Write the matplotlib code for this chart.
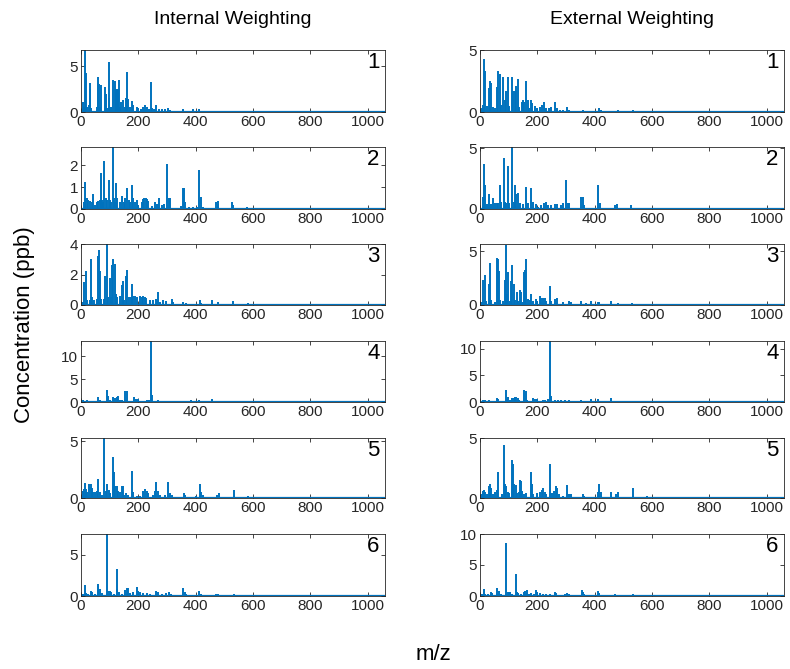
import matplotlib
matplotlib.use('Agg')
import matplotlib.pyplot as plt

# peak lists (m/z, concentration in ppb) for the six factors
# internal weighting
int1_mz = [8, 12, 15, 18, 22, 29, 31, 33, 36, 55, 59, 61, 63, 66, 70, 83, 87, 90, 96, 99, 105, 113,
           117, 122, 126, 130, 131, 135, 141, 147, 152, 157, 161, 165, 171, 177, 182, 194, 200, 210, 217,
           223, 229, 237, 245, 248, 256, 263, 271, 283, 293, 304, 309, 354, 389, 412, 480]
int1_conc = [1.1, 0.6, 6.8, 4.3, 0.5, 0.8, 3.2, 2.5, 0.4, 0.5, 3.2, 3.8, 3.1, 0.6, 3.0, 2.7, 2.0, 0.4, 5.5, 1.5, 0.6, 3.5,
             3.4, 2.5, 2.4, 2.5, 3.5, 0.6, 1.1, 1.3, 0.5, 1.5, 4.4, 1.4, 0.6, 1.2, 0.8, 0.5, 0.4, 0.3, 0.6,
             0.8, 0.5, 0.3, 3.3, 0.4, 0.3, 0.8, 0.3, 0.3, 0.3, 0.4, 0.2, 0.3, 0.3, 0.3, 0.1]

int2_mz = [10, 13, 15, 20, 26, 31, 37, 43, 48, 55, 60, 65, 68, 72, 76, 81, 86, 91, 96, 100, 106, 111, 114, 118,
           122, 127, 135, 144, 150, 155, 161, 166, 172, 177, 182, 188, 194, 200, 211, 217, 221, 225, 229, 235,
           248, 257, 265, 271, 281, 288, 300, 306, 312, 350, 354, 358, 363, 376, 390, 404, 412, 419, 426,
           472, 476, 479, 528, 531, 579, 640, 700, 760]
int2_conc = [0.3, 0.5, 1.25, 0.5, 0.4, 0.35, 0.3, 0.7, 0.2, 0.3, 0.35, 0.4, 1.65, 0.4, 0.3, 2.2, 0.5, 0.4, 1.35, 0.4, 0.3,
             2.85, 0.5, 0.3, 1.2, 0.5, 0.3, 0.6, 0.3, 0.5, 0.95, 0.4, 0.3, 1.1, 0.5, 0.3, 0.4, 0.2, 0.3, 0.45, 0.5,
             0.5, 0.45, 0.35, 0.15, 0.3, 0.25, 0.5, 0.2, 0.25, 2.05, 0.5, 0.5, 0.15, 0.95, 0.95, 0.3, 0.1, 0.1, 0.1,
             1.8, 0.55, 0.1, 0.3, 0.35, 0.25, 0.3, 0.2, 0.1, 0.05, 0.05, 0.05]

int3_mz = [6, 12, 17, 22, 31, 34, 38, 47, 55, 59, 63, 67, 71, 81, 85, 89, 95, 100, 105, 109, 113, 117, 122, 127,
           135, 142, 146, 151, 157, 161, 166, 173, 177, 182, 188, 194, 205, 211, 217, 223, 228, 240, 251, 263,
           269, 275, 286, 298, 316, 321, 356, 367, 414, 420, 457, 478, 530, 582, 670, 760]
int3_conc = [0.2, 1.5, 2.2, 0.3, 0.3, 3.0, 0.5, 0.3, 0.4, 3.2, 3.6, 2.2, 0.4, 0.4, 1.9, 4.0, 0.5, 1.8, 0.5, 2.6,
             3.0, 2.7, 0.7, 0.5, 0.6, 1.3, 1.6, 0.3, 1.9, 2.3, 0.5, 0.5, 1.4, 0.6, 0.6, 0.5, 0.6, 0.55, 0.6, 0.5,
             0.45, 0.35, 0.3, 0.4, 0.85, 0.2, 0.3, 0.25, 0.4, 0.2, 0.2, 0.15, 0.3, 0.15, 0.35, 0.2, 0.25, 0.1,
             0.05, 0.05]

int4_mz = [8, 20, 37, 58, 66, 78, 89, 95, 101, 110, 118, 124, 130, 137, 143, 154, 159, 164, 173, 184, 191, 199,
           217, 229, 236, 245, 249, 257, 269, 281, 310, 356, 385, 412, 458, 478, 530]
int4_conc = [0.5, 0.4, 0.3, 1.0, 0.4, 0.3, 2.7, 1.2, 0.5, 1.0, 0.9, 1.1, 1.2, 0.5, 0.4, 2.5, 2.3, 0.3, 0.3, 1.0,
             0.6, 0.7, 0.3, 0.5, 0.5, 13.3, 1.6, 0.3, 0.5, 0.2, 0.3, 0.3, 0.5, 0.5, 0.6, 0.2, 0.1]

int5_mz = [6, 10, 14, 17, 22, 29, 34, 37, 43, 48, 55, 61, 66, 73, 81, 86, 92, 96, 101, 111, 115, 119, 124, 130,
           136, 142, 145, 150, 157, 165, 177, 182, 194, 205, 217, 223, 229, 235, 251, 257, 263, 269, 275, 294,
           303, 310, 318, 345, 359, 364, 402, 414, 420, 426, 474, 481, 532, 584, 646, 715]
int5_conc = [0.6, 0.8, 1.3, 0.8, 0.5, 1.2, 1.2, 0.9, 0.5, 0.5, 0.6, 1.7, 0.5, 0.3, 5.3, 0.6, 1.2, 0.7, 0.4, 3.6,
             2.3, 1.1, 1.1, 0.6, 0.5, 1.1, 1.1, 0.3, 0.4, 0.3, 2.4, 0.5, 0.2, 0.2, 0.6, 0.8, 0.6, 0.4, 0.3, 0.6,
             1.4, 0.6, 0.3, 0.3, 1.4, 0.4, 0.3, 0.1, 0.4, 0.3, 0.2, 1.2, 0.5, 0.3, 0.3, 0.4, 0.7, 0.2, 0.1, 0.05]

int6_mz = [6, 13, 17, 26, 34, 38, 49, 58, 61, 67, 72, 89, 95, 101, 106, 115, 124, 127, 132, 142, 153, 159, 165,
           170, 182, 194, 199, 205, 217, 229, 240, 263, 269, 281, 298, 308, 313, 356, 362, 367, 412, 418, 472,
           479, 532, 582, 611, 670]
int6_conc = [0.3, 1.3, 0.4, 0.2, 0.6, 0.5, 0.2, 1.5, 1.2, 0.9, 0.4, 7.5, 0.6, 0.6, 0.5, 0.3, 3.3, 0.8, 0.5, 0.3,
             0.7, 1.0, 1.0, 0.4, 0.5, 1.1, 0.6, 0.5, 0.4, 0.35, 0.3, 0.6, 0.5, 0.2, 0.4, 0.5, 0.3, 1.0, 0.5, 0.2,
             0.6, 0.3, 0.3, 0.2, 0.2, 0.15, 0.1, 0.05]

# external weighting
ext1_mz = [6, 9, 15, 18, 23, 32, 35, 39, 44, 52, 60, 64, 68, 73, 81, 86, 91, 96, 101, 110, 114, 123, 127, 132,
           137, 145, 149, 155, 162, 167, 171, 178, 183, 191, 199, 208, 217, 223, 229, 239, 247, 262, 268, 280,
           289, 303, 310, 358, 387, 416, 422, 480, 534, 590]
ext1_conc = [0.3, 0.6, 4.3, 3.3, 0.5, 1.9, 2.5, 2.3, 0.4, 0.3, 2.0, 3.3, 3.1, 0.6, 2.8, 1.0, 1.7, 2.8, 0.5, 2.8,
             1.7, 1.7, 2.1, 2.7, 0.4, 0.8, 1.0, 0.8, 2.5, 1.0, 0.3, 1.0, 0.7, 0.5, 0.3, 0.4, 0.6, 0.8, 0.3, 0.3,
             0.4, 0.8, 0.3, 0.2, 0.2, 0.4, 0.2, 0.2, 0.1, 0.3, 0.15, 0.2, 0.2, 0.05]

ext2_mz = [9, 15, 18, 23, 32, 37, 46, 51, 58, 64, 69, 74, 83, 87, 92, 98, 102, 113, 117, 123, 126, 132, 139,
           150, 162, 168, 179, 185, 194, 202, 214, 222, 229, 237, 249, 260, 268, 283, 291, 301, 306, 312, 347,
           353, 358, 364, 399, 413, 419, 426, 472, 476, 526, 578, 636]
ext2_conc = [1.0, 3.7, 2.0, 0.4, 1.2, 0.4, 0.9, 0.5, 0.5, 0.5, 2.0, 0.6, 4.2, 0.6, 0.5, 3.5, 0.5, 5.1, 0.6, 2.0,
             1.2, 1.3, 0.5, 0.4, 1.8, 0.5, 1.7, 0.6, 0.4, 0.2, 0.3, 0.5, 0.6, 0.3, 0.3, 0.4, 0.45, 0.3, 0.5, 2.4,
             0.5, 0.5, 0.1, 1.0, 1.0, 0.3, 0.1, 2.0, 0.5, 0.1, 0.3, 0.4, 0.3, 0.1, 0.05]

ext3_mz = [6, 12, 16, 21, 30, 35, 39, 52, 58, 62, 67, 71, 81, 86, 90, 94, 98, 103, 109, 113, 118, 122, 129, 134,
           139, 144, 149, 155, 158, 162, 167, 173, 179, 185, 194, 200, 208, 214, 220, 226, 231, 244, 248, 263,
           269, 289, 310, 318, 353, 370, 387, 410, 416, 457, 480, 529]
ext3_conc = [0.3, 2.3, 2.8, 0.4, 2.0, 3.9, 0.5, 0.3, 4.4, 4.3, 3.2, 0.5, 0.4, 2.3, 5.6, 1.0, 3.1, 0.4, 2.2, 3.7,
             2.0, 0.5, 1.2, 0.4, 1.4, 1.2, 0.3, 3.1, 3.3, 4.3, 0.6, 0.5, 1.0, 0.4, 0.6, 0.4, 0.8, 0.7, 0.7, 0.7,
             0.4, 1.8, 0.4, 0.6, 0.7, 0.3, 0.4, 0.3, 0.4, 0.2, 0.35, 0.3, 0.3, 0.35, 0.15, 0.2]

ext4_mz = [9, 17, 32, 40, 58, 64, 90, 95, 98, 104, 111, 118, 123, 127, 131, 137, 155, 160, 165, 185, 191, 199,
           208, 220, 226, 237, 245, 249, 260, 272, 283, 295, 310, 353, 387, 410, 457, 474, 532]
ext4_conc = [0.3, 0.3, 0.4, 0.2, 0.8, 0.5, 2.3, 0.6, 1.0, 0.3, 0.7, 0.7, 0.9, 0.9, 0.8, 0.3, 2.2, 2.0, 0.4, 0.8,
             0.6, 0.6, 0.2, 0.3, 0.4, 0.5, 11.5, 1.2, 0.3, 0.4, 0.4, 0.3, 0.3, 0.3, 0.5, 0.5, 0.7, 0.2, 0.1]

ext5_mz = [6, 9, 14, 18, 25, 32, 36, 39, 46, 54, 60, 64, 75, 82, 87, 92, 97, 102, 111, 114, 119, 124, 128, 136,
           140, 143, 148, 154, 162, 178, 182, 186, 199, 208, 215, 220, 226, 231, 245, 250, 257, 264, 268, 275,
           289, 304, 310, 318, 358, 364, 410, 416, 422, 457, 474, 481, 534, 584, 636, 670]
ext5_conc = [0.3, 0.6, 0.7, 0.5, 0.3, 1.0, 1.2, 0.8, 0.3, 0.5, 0.7, 2.2, 0.3, 4.4, 1.2, 1.0, 0.5, 0.4, 3.2, 2.8,
             1.2, 1.1, 0.4, 0.5, 1.5, 1.4, 0.6, 0.3, 0.4, 2.2, 1.2, 0.3, 0.4, 0.5, 0.7, 0.8, 0.5, 0.3, 2.8, 0.4,
             0.6, 1.0, 0.8, 0.3, 0.2, 1.1, 0.3, 0.3, 0.3, 0.2, 0.5, 1.2, 0.5, 0.5, 0.3, 0.5, 0.8, 0.2, 0.05, 0.05]

ext6_mz = [6, 13, 18, 29, 37, 42, 52, 61, 67, 72, 91, 96, 101, 105, 113, 125, 128, 133, 144, 153, 158, 164, 171,
           179, 188, 194, 199, 208, 220, 231, 245, 261, 266, 277, 295, 303, 310, 354, 358, 364, 410, 416, 472,
           480, 532, 580, 612, 660]
ext6_conc = [0.3, 1.2, 0.3, 0.3, 0.7, 0.5, 0.2, 1.3, 0.8, 0.4, 8.6, 0.7, 0.6, 0.6, 0.3, 3.6, 0.7, 0.5, 0.4, 0.6,
             0.8, 0.9, 0.4, 0.5, 0.4, 1.0, 0.6, 0.5, 0.3, 0.3, 0.3, 0.6, 0.5, 0.2, 0.4, 0.5, 0.3, 0.9, 0.7, 0.3,
             0.8, 0.5, 0.3, 0.2, 0.3, 0.2, 0.1, 0.05]

internal = [(int1_mz, int1_conc), (int2_mz, int2_conc), (int3_mz, int3_conc),
            (int4_mz, int4_conc), (int5_mz, int5_conc), (int6_mz, int6_conc)]
external = [(ext1_mz, ext1_conc), (ext2_mz, ext2_conc), (ext3_mz, ext3_conc),
            (ext4_mz, ext4_conc), (ext5_mz, ext5_conc), (ext6_mz, ext6_conc)]

int_yticks = [[0, 5], [0, 1, 2], [0, 2, 4], [0, 5, 10], [0, 5], [0, 5]]
ext_yticks = [[0, 5], [0, 5], [0, 5], [0, 5, 10], [0, 5], [0, 5, 10]]
ext_ytop = [5.0, 5.1, 5.7, 11.5, 5.0, 10.0]
xticks = [0, 200, 400, 600, 800, 1000]

blue = '#0072BD'
plt.rcParams['font.family'] = ['Liberation Sans', 'DejaVu Sans']

W, H = 790, 669
fig = plt.figure(figsize=(W / 100, H / 100), dpi=100)

row_top = [50, 147, 244, 341, 438, 534]
row_bot = [112, 209, 305, 402, 498, 596]
col_left = [81, 480]
col_w = 304


def draw_panel(ax, mz, conc, yticks, ytop, num):
    ax.vlines(mz, 0, conc, color=blue, lw=1.4)
    ax.axhline(0, color=blue, lw=1.6)
    ax.set_xlim(0, 1060)
    ax.set_ylim(0, ytop)
    ax.set_xticks(xticks)
    ax.set_yticks(yticks)
    ax.tick_params(direction='in', length=3, width=0.6, labelsize=11,
                   colors='#262626', top=True, right=True, pad=2)
    for s in ax.spines.values():
        s.set_linewidth(0.6)
        s.set_color('#262626')
    ax.text(0.982, 0.8, str(num), transform=ax.transAxes, ha='right', va='center',
            fontsize=16, color='black')


for col, data, yt in [(0, internal, int_yticks), (1, external, ext_yticks)]:
    for i, (mz, conc) in enumerate(data):
        x0 = col_left[col] / W
        y0 = 1 - row_bot[i] / H
        h = (row_bot[i] - row_top[i]) / H
        ax = fig.add_axes([x0, y0, col_w / W, h])
        ytop = max(conc) if col == 0 else ext_ytop[i]
        draw_panel(ax, mz, conc, yt[i], ytop, i + 1)

fig.text(233 / W, 1 - 20 / H, 'Internal Weighting', ha='center', va='center', fontsize=14)
fig.text(632 / W, 1 - 20 / H, 'External Weighting', ha='center', va='center', fontsize=14)
fig.text(25 / W, 1 - 325 / H, 'Concentration (ppb)', rotation=90, ha='center', va='center', fontsize=16)
fig.text(433 / W, 1 - 655 / H, 'm/z', ha='center', va='center', fontsize=16)

fig.savefig('out.png', dpi=100)
